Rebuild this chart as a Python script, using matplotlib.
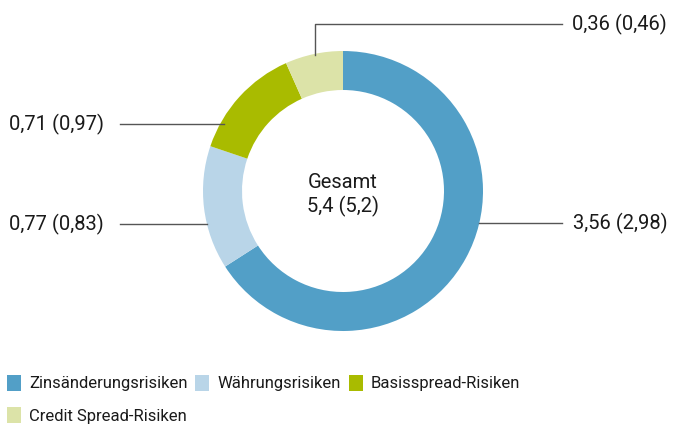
import matplotlib
matplotlib.use("Agg")
import matplotlib.pyplot as plt
import numpy as np
from matplotlib.patches import Patch

plt.rcParams['font.family'] = ['Roboto', 'DejaVu Sans']

# Daten
kategorien = ['Zinsänderungsrisiken', 'Währungsrisiken', 'Basisspread-Risiken', 'Credit Spread-Risiken']
werte = [3.56, 0.77, 0.71, 0.36]
vorjahr = [2.98, 0.83, 0.97, 0.46]
gesamt = 5.4
gesamt_vj = 5.2
farben = ['#529fc7', '#b9d5e8', '#a9bb00', '#dce3a8']

W, H = 673, 425
fig = plt.figure(figsize=(W / 100, H / 100), dpi=100)
ax = fig.add_axes([0, 0, 1, 1])
ax.set_xlim(0, W)
ax.set_ylim(0, H)
ax.axis('off')

cx, cy = 343, H - 191
R = 140
breite = 39

wedges, _ = ax.pie(werte, colors=farben, startangle=90, counterclock=False,
                   center=(cx, cy), radius=R,
                   wedgeprops=dict(width=breite, linewidth=0))
ax.set_xlim(0, W)
ax.set_ylim(0, H)
ax.set_aspect('equal')


def fmt(v, n=2):
    return f"{v:.{n}f}".replace('.', ',')


tcol = '#1a1a1a'
lcol = '#555555'
fs = 14.5
fs_leg = 12

# Zinsänderungsrisiken: rechts
y = H - 223
x0 = cx + np.sqrt(R ** 2 - (y - cy) ** 2)
ax.plot([x0, 562], [y, y], color=lcol, lw=1)
ax.text(573, y, f"{fmt(werte[0])} ({fmt(vorjahr[0])})", ha='left', va='center', fontsize=fs, color=tcol)

# Währungsrisiken: links unten
y = H - 224
x0 = cx - np.sqrt(R ** 2 - (y - cy) ** 2)
ax.plot([120, x0], [y, y], color=lcol, lw=1)
ax.text(9, y, f"{fmt(werte[1])} ({fmt(vorjahr[1])})", ha='left', va='center', fontsize=fs, color=tcol)

# Basisspread-Risiken: links oben
y = H - 124
x0 = cx - np.sqrt(R ** 2 - (y - cy) ** 2) + 4
ax.plot([120, x0], [y, y], color=lcol, lw=1)
ax.text(9, y, f"{fmt(werte[2])} ({fmt(vorjahr[2])})", ha='left', va='center', fontsize=fs, color=tcol)

# Credit Spread-Risiken: oben
xv = 315
yk = H - 24
y0 = cy + np.sqrt(R ** 2 - (xv - cx) ** 2) - 1
ax.plot([xv, xv, 562], [y0, yk, yk], color=lcol, lw=1)
ax.text(572, yk, f"{fmt(werte[3])} ({fmt(vorjahr[3])})", ha='left', va='center', fontsize=fs, color=tcol)

# Mitte
ax.text(cx, H - 182, 'Gesamt', ha='center', va='center', fontsize=fs, color=tcol)
ax.text(cx, H - 206, f"{fmt(gesamt, 1)} ({fmt(gesamt_vj, 1)})", ha='center', va='center', fontsize=fs, color=tcol)

# Legende zeilenweise: Reihenfolge für ncol=3 umsortieren
reihenfolge = [0, 3, 1, 2]
handles = [Patch(facecolor=farben[i], edgecolor='none') for i in reihenfolge]
labels = [kategorien[i] for i in reihenfolge]
fig.legend(handles, labels, loc='upper left', bbox_to_anchor=(0.0, 1 - 368 / H),
           ncol=3, frameon=False, fontsize=fs_leg, handlelength=0.85, handleheight=1.1,
           handletextpad=0.5, columnspacing=0.45, labelspacing=0.95, borderaxespad=0,
           borderpad=0.4, labelcolor=tcol)

fig.savefig('out.png', dpi=100)
